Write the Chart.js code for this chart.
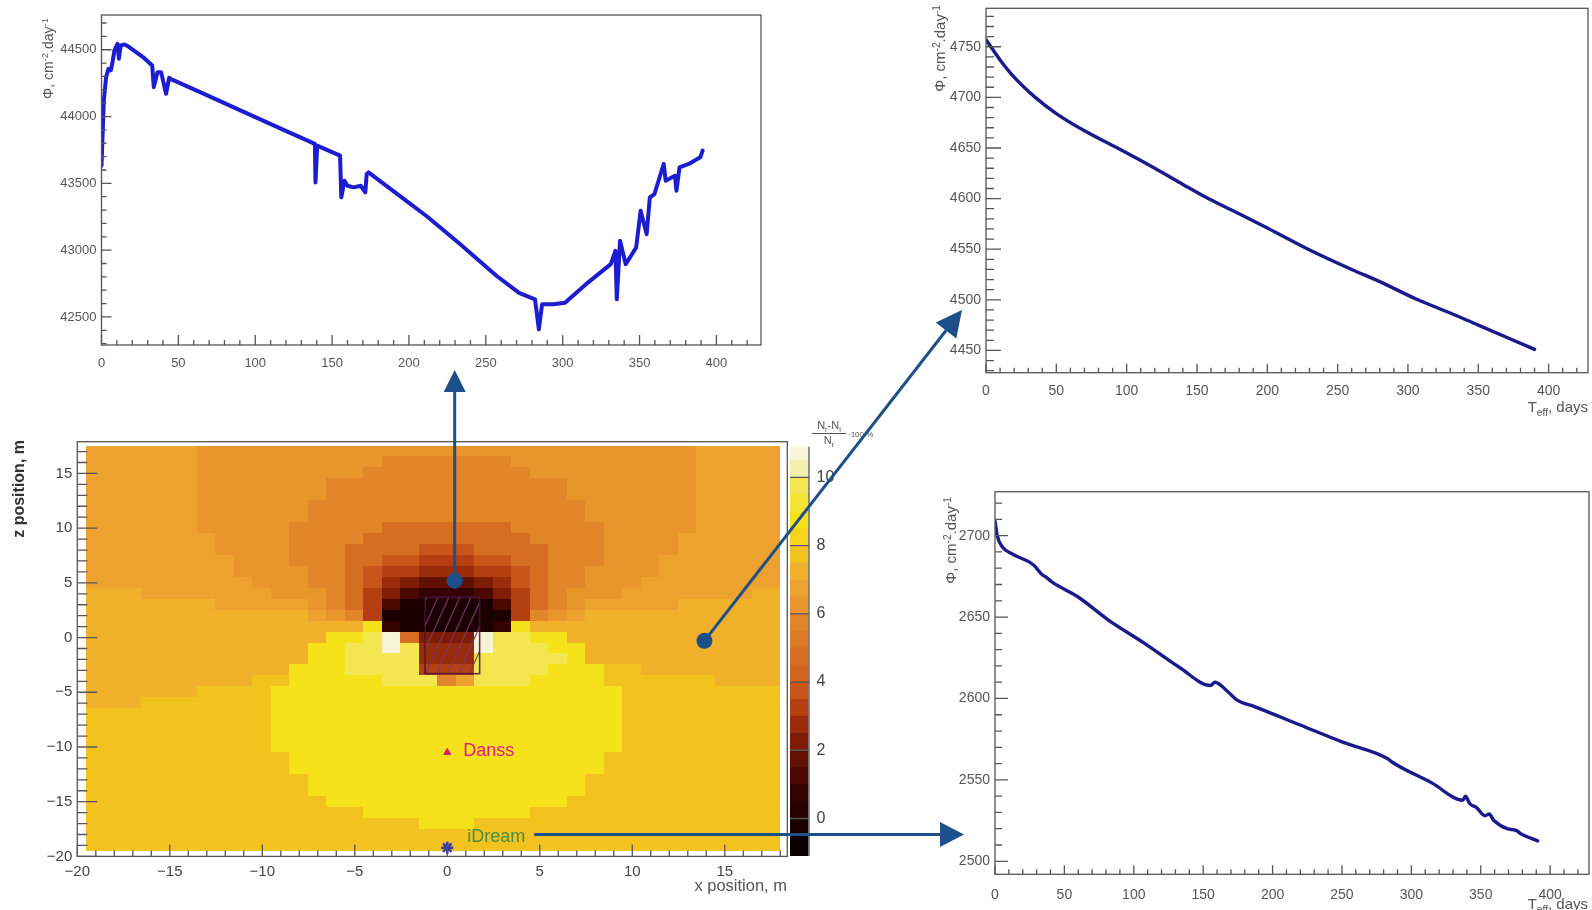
<!DOCTYPE html>
<html><head><meta charset="utf-8">
<script src="https://cdn.jsdelivr.net/npm/chart.js@4.4.0/dist/chart.umd.min.js"></script>
<style>
html,body{margin:0;padding:0;background:#fff;width:1592px;height:910px;overflow:hidden;}
canvas{position:absolute;}
</style></head><body>
<canvas id="cA" width="790" height="395" style="left:0;top:0"></canvas>
<canvas id="cB" width="712" height="400" style="left:880px;top:0"></canvas>
<canvas id="cC" width="712" height="450" style="left:880px;top:460px"></canvas>
<canvas id="cD" width="900" height="510" style="left:0;top:400px"></canvas>
<canvas id="cE" width="70" height="430" style="left:780px;top:440px"></canvas>
<canvas id="ov" width="1592" height="910" style="left:0;top:0;pointer-events:none"></canvas>
<script>
// ===================== DATA =====================
// Top-left panel: flux vs days
const topLeftDays = [0,1.5,3,4.5,6,7,8.4,10.4,11.3,12.5,15,18,27,33,34,36.4,38.8,42,44,44.8,62.7,92.5,122.4,138.8,139.2,140.3,155.2,156,158,160,164,168.6,171.6,172.5,173.7,197,212,232.8,256.7,271.6,282,284.5,286.6,294,301.5,316.4,331.3,334.3,335.2,337.3,341,347.8,350.7,354.6,356.7,359.7,365.7,367,373,374,376,382,389.5,391];
const topLeftFlux = [43632,44120,44295,44357,44345,44395,44495,44545,44432,44532,44540,44520,44445,44382,44220,44332,44332,44170,44290,44282,44190,44035,43880,43795,43507,43782,43707,43395,43520,43482,43470,43482,43432,43570,43582,43380,43250,43050,42810,42680,42632,42407,42595,42595,42607,42757,42895,42995,42632,43070,42895,43020,43295,43120,43395,43420,43645,43520,43557,43445,43620,43645,43695,43745];
// Top-right panel
const topRightDays = [0,10,20,35,50,70,93.5,120,140,158,180,200,229,260,280,307,330,350,370,390];
const topRightFlux = [4757,4737,4720,4700,4684,4667,4650,4630,4614,4600,4585,4571,4550,4530,4518,4500,4487,4475,4463,4451];
// Bottom-right panel
const botRightDays = [0,1.6,5.4,11.8,27.8,34,36,42,59.6,82,107.5,133,155.3,158.5,168,174.5,187,219,251,283,286,315,337,339,342,347,353,356,359.5,369,375.5,378.7,391];
const botRightFlux = [2709,2700,2693,2689,2682,2676,2675,2671,2662.5,2648,2634,2619,2608,2610,2604,2599,2595,2584,2573,2563,2561,2548,2537.5,2540,2535.5,2533,2528,2529,2525,2520,2519,2517,2512.5];
// Tick values
const tlXTicks = [0,50,100,150,200,250,300,350,400];
const tlYTicks = [42500,43000,43500,44000,44500];
const trYTicks = [4450,4500,4550,4600,4650,4700,4750];
const brYTicks = [2500,2550,2600,2650,2700];
const mapXTicks = [-20,-15,-10,-5,0,5,10,15];
const mapZTicks = [-20,-15,-10,-5,0,5,10,15];
const colorbarTicks = [0,2,4,6,8,10];
// Colour scale (contour bands)
const colorbarEdges = [-1.1,-0.5,0,0.5,1,1.5,2,2.5,3,3.5,4,4.5,5,5.5,6,6.5,7,7.5,8,8.5,9,9.5,10,10.5,10.9];
const colorbarColors = ['#0a0000','#1c0000','#280000','#340200','#4a0800','#621000','#7e1c04','#9a2c0a','#b44012','#c8561a','#d06420','#d66e22','#dc7a26','#e2862a','#e8952c','#eda12f','#f1b12a','#f2c21e','#f4d41c','#f5e21a','#f5e636','#f3e650','#f4efb0','#f8f4d8'];
// Map cell level codes -> relative value (%)
const levelValue = {'0':-0.25,'1':0.75,'2':1.25,'3':1.75,'4':2.25,'5':2.75,'6':3.25,'7':3.75,'8':4.75,'9':5.75,'a':6.25,'b':6.75,'c':7.25,'d':7.75,'e':8.25,'f':8.75,'g':9.75,'h':10.7};
// Map grid (run-length coded rows, 1 m cells): columns x=-19..18, rows z=17..-19
const mapXCenters = [-19,-18,-17,-16,-15,-14,-13,-12,-11,-10,-9,-8,-7,-6,-5,-4,-3,-2,-1,0,1,2,3,4,5,6,7,8,9,10,11,12,13,14,15,16,17,18];
const mapZCenters = [17,16,15,14,13,12,11,10,9,8,7,6,5,4,3,2,1,0,-1,-2,-3,-4,-5,-6,-7,-8,-9,-10,-11,-12,-13,-14,-15,-16,-17,-18,-19];
const mapRows = [
 "6b 27a 5b",
 "6b 10a 79 10a 5b",
 "6b 9a 99 9a 5b",
 "6b 7a 139 7a 5b",
 "6b 7a 139 7a 5b",
 "6b 6a 159 6a 5b",
 "6b 6a 159 6a 5b",
 "6b 5a 59 78 59 5a 5b",
 "7b 4a 49 98 49 4a 6b",
 "7b 4a 39 48 37 48 39 4a 6b",
 "8b 3a 39 28 27 36 27 28 39 3a 7b",
 "8b 4a 29 18 17 26 35 26 17 18 29 4a 7b",
 "9b 3a 29 18 17 15 14 33 14 15 17 18 29 3a 8b",
 "3c 7b 3a 19 18 16 14 12 31 12 14 16 18 19 3a 7b 2c",
 "7c 5b 1a 19 18 16 12 50 12 16 18 19 1a 5b 6c",
 "12c 1b 1a 19 16 70 16 19 1a 1b 11c",
 "15c 1f 11 50 11 1f 14c",
 "13c 2f 1g 1h 18 34 1h 2g 2f 12c",
 "12c 2f 2g 1h 1g 35 1h 3g 2f 11c",
 "12c 2f 4g 35 5g 1f 11c",
 "11c 3f 4g 36 4g 3f 2d 8c",
 "9c 2d 5f 3g 19 1b 3g 4f 6d 4c",
 "6c 4d 19f 9d",
 "3c 7d 19f 9d",
 "10d 19f 9d",
 "10d 19f 9d",
 "10d 19f 9d",
 "10d 19f 9d",
 "11d 17f 10d",
 "11d 17f 10d",
 "12d 15f 11d",
 "12d 15f 11d",
 "13d 13f 12d",
 "15d 9f 14d",
 "18d 3f 17d",
 "38d",
 "38d"
];
// Markers
const danssPos = {x:0, y:-10.5};
const idreamPos = {x:0, y:-19.2};
const sourceBox = {x1:-1.2, x2:1.75, y1:-3.3, y2:3.7};
const probeTop = {x:0.4, y:5.2};
const probeSide = {x:13.9, y:-0.3};
const probeDream = {x:4.7, y:-18.0};

// ===================== HELPERS =====================
const FONT = "'Liberation Sans', Arial, Helvetica, sans-serif";
Chart.defaults.font.family = FONT;
Chart.defaults.color = '#4a4a4a';

function colorForValue(v){
  for (let i=0;i<colorbarColors.length;i++){ if (v < colorbarEdges[i+1]) return colorbarColors[i]; }
  return colorbarColors[colorbarColors.length-1];
}
function decodeRow(s){
  let out='';
  s.split(' ').forEach(t=>{ const ch=t.slice(-1); const n=parseInt(t.slice(0,-1),10); for(let k=0;k<n;k++) out+=ch; });
  return out;
}
const mapCells = [];
mapRows.forEach((r,ri)=>{
  const row = decodeRow(r);
  for (let ci=0; ci<mapXCenters.length; ci++){
    const c = row[ci] || 'd';
    mapCells.push({x:mapXCenters[ci], y:mapZCenters[ri], c:c, v:levelValue[c]});
  }
});
function noPad(s){ s.paddingTop=0; s.paddingBottom=0; s.paddingLeft=0; s.paddingRight=0; }

const rootAxes = {
  id:'rootAxes',
  afterDatasetsDraw(chart, args, o){
    const {ctx, chartArea:a} = chart; const x=chart.scales.x, y=chart.scales.y;
    ctx.save();
    ctx.strokeStyle = o.color || '#555'; ctx.lineWidth = o.lw || 1.3;
    ctx.beginPath();
    const near=(v,m)=>Math.abs(v/m-Math.round(v/m))<1e-6;
    for (let v=Math.ceil(x.min/o.xMinor)*o.xMinor; v<=x.max+1e-9; v+=o.xMinor){
      const p=x.getPixelForValue(v); const L = near(v,o.xMajor)?o.xLen[0]:o.xLen[1];
      ctx.moveTo(p,a.bottom); ctx.lineTo(p,a.bottom-L);
    }
    for (let v=Math.ceil(y.min/o.yMinor)*o.yMinor; v<=y.max+1e-9; v+=o.yMinor){
      const p=y.getPixelForValue(v); const L = near(v,o.yMajor)?o.yLen[0]:o.yLen[1];
      ctx.moveTo(a.left,p); ctx.lineTo(a.left+L,p);
    }
    ctx.stroke();
    ctx.strokeRect(a.left, a.top, a.right-a.left, a.bottom-a.top);
    ctx.restore();
  }
};

function lineChart(id, days, flux, opt){
  return new Chart(document.getElementById(id), {
    type:'line',
    data:{datasets:[{data:days.map((d,i)=>({x:d,y:flux[i]})), borderColor:opt.color, borderWidth:opt.lw, pointRadius:0, fill:false, borderJoinStyle:'round', borderCapStyle:'round', tension:0, cubicInterpolationMode: opt.smooth?'monotone':'default'}]},
    options:{
      responsive:false, animation:false, events:[], devicePixelRatio:1,
      layout:{padding:opt.pad},
      plugins:{legend:{display:false}, tooltip:{enabled:false}, rootAxes:opt.axes},
      scales:{
        x:{type:'linear', min:0, max:opt.xMax, grid:{display:false,drawTicks:false}, border:{display:false},
           afterBuildTicks:s=>{s.ticks=tlXTicks.map(v=>({value:v}));},
           afterFit:s=>{s.height=opt.xH; noPad(s);},
           ticks:{padding:opt.xPad, font:{size:opt.fs}, color:'#555', maxRotation:0, autoSkip:false, callback:v=>String(v)}},
        y:{type:'linear', min:opt.yMin, max:opt.yMax, grid:{display:false,drawTicks:false}, border:{display:false},
           afterBuildTicks:s=>{s.ticks=opt.yTicks.map(v=>({value:v}));},
           afterFit:s=>{s.width=opt.yW; noPad(s);},
           ticks:{padding:opt.yPad, font:{size:opt.fs}, color:'#555', autoSkip:false, callback:v=>String(v)}}
      }
    },
    plugins:[rootAxes]
  });
}

lineChart('cA', topLeftDays, topLeftFlux, {color:'#1c1cd0', lw:4, pad:{left:0,top:15,right:29,bottom:0}, xMax:429, yMin:42290, yMax:44760, yTicks:tlYTicks, xH:50, yW:101.5, xPad:11, yPad:5, fs:13, smooth:false,
  axes:{xMajor:50,xMinor:10,yMajor:500,yMinor:100,xLen:[10,5],yLen:[10,5],color:'#555',lw:1.3}});
lineChart('cB', topRightDays, topRightFlux, {color:'#1a1a8c', lw:3.4, pad:{left:0,top:8.3,right:4,bottom:0}, xMax:428, yMin:4428, yMax:4788, yTicks:trYTicks, xH:27.3, yW:106, xPad:10, yPad:5, fs:14, smooth:true,
  axes:{xMajor:50,xMinor:10,yMajor:50,yMinor:10,xLen:[9,5],yLen:[15,8],color:'#555',lw:1.3}});
lineChart('cC', botRightDays, botRightFlux, {color:'#1a1a8c', lw:3.4, pad:{left:0,top:31.7,right:3,bottom:0}, xMax:428, yMin:2492, yMax:2727, yTicks:brYTicks, xH:35.7, yW:115, xPad:12, yPad:5, fs:14, smooth:true,
  axes:{xMajor:50,xMinor:10,yMajor:50,yMinor:10,xLen:[9,5],yLen:[13,7],color:'#555',lw:1.3}});

// ---- heat map ----
const cellCache = {};
function cellStyle(ctx){
  if (!ctx.raw || ctx.raw.c===undefined) return 'rect';
  const ch = ctx.chart; const xs=ch.scales.x, ys=ch.scales.y;
  const w = Math.abs(xs.getPixelForValue(1)-xs.getPixelForValue(0));
  const h = Math.abs(ys.getPixelForValue(1)-ys.getPixelForValue(0));
  const key = ctx.raw.c+'_'+w.toFixed(1)+'_'+h.toFixed(1);
  if (!cellCache[key]){
    const cv=document.createElement('canvas');
    cv.width=Math.ceil(w)+1; cv.height=Math.ceil(h)+1;
    const g=cv.getContext('2d'); g.fillStyle=colorForValue(ctx.raw.v); g.fillRect(0,0,cv.width,cv.height);
    cellCache[key]=cv;
  }
  return cellCache[key];
}
const mapExtras = {
  id:'mapExtras',
  afterDatasetsDraw(chart){
    const {ctx} = chart; const x=chart.scales.x, y=chart.scales.y;
    const x1=x.getPixelForValue(sourceBox.x1), x2=x.getPixelForValue(sourceBox.x2);
    const y1=y.getPixelForValue(sourceBox.y2), y2=y.getPixelForValue(sourceBox.y1);
    ctx.save();
    ctx.beginPath(); ctx.rect(x1,y1,x2-x1,y2-y1); ctx.clip();
    ctx.strokeStyle='rgba(125,55,125,0.85)'; ctx.lineWidth=1.3;
    ctx.beginPath();
    const hh=y2-y1;
    for (let sx=x1-hh; sx<x2+10; sx+=11){ ctx.moveTo(sx,y2); ctx.lineTo(sx+hh*0.45,y1); }
    ctx.stroke();
    ctx.restore();
    ctx.save();
    ctx.strokeStyle='rgba(70,20,60,0.9)'; ctx.lineWidth=1.5;
    ctx.strokeRect(x1,y1,x2-x1,y2-y1);
    ctx.font='18px '+FONT; ctx.fillStyle='#e41c7e'; ctx.textBaseline='middle';
    ctx.fillText('Danss', x.getPixelForValue(danssPos.x)+16, y.getPixelForValue(danssPos.y)-1);
    ctx.font='18px '+FONT; ctx.fillStyle='#4b8c46';
    ctx.fillText('iDream', x.getPixelForValue(idreamPos.x)+20, y.getPixelForValue(idreamPos.y)-11);
    ctx.restore();
  }
};
const fmtMinus = v => String(v).replace('-', '\u2212');
const chartD = new Chart(document.getElementById('cD'), {
  type:'scatter',
  data:{datasets:[
    {data:[danssPos], pointStyle:'triangle', pointRadius:4, backgroundColor:'#d81b78', borderColor:'#d81b78', order:0},
    {data:[idreamPos], pointStyle:'star', pointRadius:6, borderWidth:2.5, borderColor:'#3a3aa8', backgroundColor:'#3a3aa8', order:0},
    {data:mapCells, pointStyle:cellStyle, pointRadius:2, borderWidth:0, order:10, clip:{left:0,top:0,right:-7.3,bottom:0}}
  ]},
  options:{
    responsive:false, animation:false, events:[], devicePixelRatio:1,
    layout:{padding:{left:0,top:41.7,right:112.7,bottom:0}},
    plugins:{legend:{display:false}, tooltip:{enabled:false},
      rootAxes:{xMajor:5,xMinor:1,yMajor:5,yMinor:1,xLen:[12,6],yLen:[20,10],color:'#555',lw:1.3}},
    scales:{
      x:{type:'linear', min:-20, max:18.38, grid:{display:false,drawTicks:false}, border:{display:false},
         afterBuildTicks:s=>{s.ticks=mapXTicks.map(v=>({value:v}));}, afterFit:s=>{s.height=53.6; noPad(s);},
         ticks:{padding:6, font:{size:15}, color:'#444', maxRotation:0, autoSkip:false, callback:fmtMinus}},
      y:{type:'linear', min:-20, max:17.9, grid:{display:false,drawTicks:false}, border:{display:false},
         afterBuildTicks:s=>{s.ticks=mapZTicks.map(v=>({value:v}));}, afterFit:s=>{s.width=77.3; noPad(s);},
         ticks:{padding:5, font:{size:15}, color:'#444', autoSkip:false, callback:fmtMinus}}
    }
  },
  plugins:[mapExtras, rootAxes]
});

// ---- colour bar ----
const cbAxis = {
  id:'cbAxis',
  afterDatasetsDraw(chart){
    const {ctx, chartArea:a} = chart; const y=chart.scales.y;
    ctx.save(); ctx.strokeStyle='#555'; ctx.lineWidth=1.3;
    ctx.beginPath(); ctx.moveTo(a.right+0.5,a.top); ctx.lineTo(a.right+0.5,a.bottom);
    colorbarTicks.forEach(v=>{ const p=y.getPixelForValue(v); ctx.moveTo(a.left,p); ctx.lineTo(a.right,p); });
    ctx.stroke(); ctx.restore();
  }
};
new Chart(document.getElementById('cE'), {
  type:'bar',
  data:{labels:['z'], datasets: colorbarColors.map((c,i)=>({data:[[colorbarEdges[i], colorbarEdges[i+1]]], backgroundColor:c, borderWidth:0, barPercentage:1, categoryPercentage:1, grouped:false}))},
  options:{responsive:false, animation:false, events:[], devicePixelRatio:1,
    layout:{padding:{left:10,top:6.7,right:0,bottom:14}},
    plugins:{legend:{display:false}, tooltip:{enabled:false}},
    scales:{
      x:{display:false, afterFit:s=>noPad(s)},
      y:{position:'right', min:-1.1, max:10.9, grid:{display:false,drawTicks:false}, border:{display:false},
         afterBuildTicks:s=>{s.ticks=colorbarTicks.map(v=>({value:v}));}, afterFit:s=>{s.width=41.5; noPad(s);},
         ticks:{padding:8, font:{size:16}, color:'#444', callback:v=>String(v)}}
    }},
  plugins:[cbAxis]
});

// ===================== OVERLAY (titles, arrows) =====================
const ov = document.getElementById('ov').getContext('2d');
function richWidth(parts, size){
  let w=0; parts.forEach(p=>{ ov.font=(p.s?size*0.68:size)+'px '+FONT; w+=ov.measureText(p.t).width; }); return w;
}
function drawRich(parts, x, y, size, color, align){
  const w = richWidth(parts,size);
  let cx = align==='right' ? x-w : (align==='center'? x-w/2 : x);
  ov.fillStyle=color; ov.textBaseline='alphabetic'; ov.textAlign='left';
  parts.forEach(p=>{
    const fs = p.s?size*0.68:size; ov.font=fs+'px '+FONT;
    const dy = p.s==='sup' ? -size*0.38 : (p.s==='sub' ? size*0.25 : 0);
    ov.fillText(p.t, cx, y+dy); cx += ov.measureText(p.t).width;
  });
}
function drawRotRich(parts, cx, topY, size, color){
  ov.save(); ov.translate(cx, topY); ov.rotate(-Math.PI/2);
  drawRich(parts, 0, size*0.35, size, color, 'right');
  ov.restore();
}
const phiTitle = [{t:'\u03A6, cm'},{t:'-2',s:'sup'},{t:'.day'},{t:'-1',s:'sup'}];
const teffTitle = [{t:'T'},{t:'eff',s:'sub'},{t:', days'}];
drawRotRich(phiTitle, 48, 18, 14, '#555');
drawRotRich(phiTitle, 940, 5, 15, '#555');
drawRotRich(phiTitle, 951, 497, 15, '#555');
drawRich(teffTitle, 1588, 412, 15, '#555', 'right');
drawRich(teffTitle, 1588, 909, 15, '#555', 'right');
drawRich([{t:'x position, m'}], 787, 891, 16.5, '#555', 'right');
ov.save(); ov.translate(20, 440); ov.rotate(-Math.PI/2); ov.font='bold 16px '+FONT; ov.fillStyle='#333'; ov.textAlign='right'; ov.textBaseline='middle'; ov.fillText('z position, m',0,0); ov.restore();
// colour bar title: (N_r - N_i)/N_r * 100 %
drawRich([{t:'N'},{t:'r',s:'sub'},{t:'-N'},{t:'i',s:'sub'}], 829, 429, 11, '#555', 'center');
ov.strokeStyle='#555'; ov.lineWidth=1; ov.beginPath(); ov.moveTo(812,433.5); ov.lineTo(846,433.5); ov.stroke();
drawRich([{t:'N'},{t:'r',s:'sub'}], 829, 444, 11, '#555', 'center');
drawRich([{t:'\u00B7100 %'}], 848, 437, 8, '#555', 'left');

// arrows
const xD = chartD.scales.x, yD = chartD.scales.y;
const cTop = {x:xD.getPixelForValue(probeTop.x), y:yD.getPixelForValue(probeTop.y)+400};
const cSide = {x:xD.getPixelForValue(probeSide.x), y:yD.getPixelForValue(probeSide.y)+400};
const cDream = {x:xD.getPixelForValue(probeDream.x), y:yD.getPixelForValue(probeDream.y)+400};
const AC = '#1d4f8a';
function arrow(x1,y1,x2,y2,hl,hw){
  const ang=Math.atan2(y2-y1,x2-x1); const bx=x2-hl*Math.cos(ang), by=y2-hl*Math.sin(ang);
  ov.strokeStyle=AC; ov.fillStyle=AC; ov.lineWidth=3;
  ov.beginPath(); ov.moveTo(x1,y1); ov.lineTo(bx,by); ov.stroke();
  ov.beginPath(); ov.moveTo(x2,y2); ov.lineTo(bx+hw*Math.sin(ang), by-hw*Math.cos(ang)); ov.lineTo(bx-hw*Math.sin(ang), by+hw*Math.cos(ang)); ov.closePath(); ov.fill();
}
arrow(cTop.x, cTop.y, cTop.x, 370, 22, 11);
arrow(cSide.x, cSide.y, 962, 310, 26, 13);
arrow(cDream.x, cDream.y, 964, cDream.y, 24, 12.5);
ov.fillStyle=AC;
[cTop,cSide].forEach(p=>{ ov.beginPath(); ov.arc(p.x,p.y,8,0,Math.PI*2); ov.fill(); });
</script>
</body></html>
